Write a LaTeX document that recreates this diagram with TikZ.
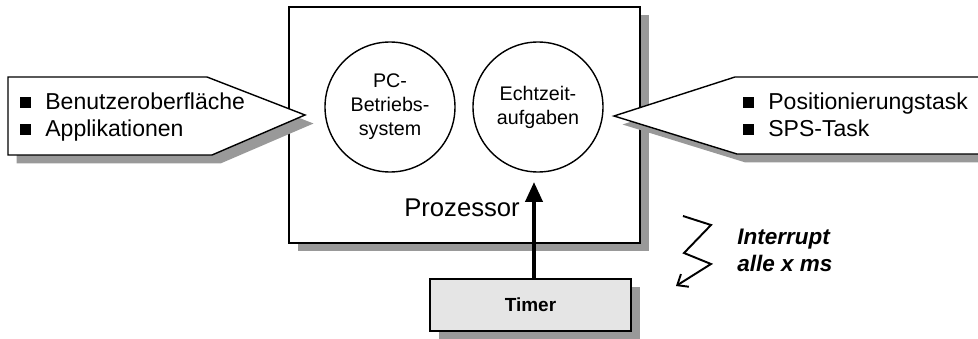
\documentclass[tikz,border=0pt]{standalone}
\usepackage{fontspec}
\setsansfont{Liberation Sans}
\usetikzlibrary{arrows.meta,shadows}
\definecolor{shadowgray}{gray}{0.6}
\definecolor{timergray}{gray}{0.9}
\tikzset{shadowed/.style={draw,line width=0.8pt,fill=white,drop shadow={shadow xshift=0.17cm,shadow yshift=-0.17cm,opacity=1,fill=shadowgray}}}
\tikzset{task/.style={circle,draw,line width=0.8pt,minimum size=2.6cm,inner sep=0pt,align=center,font=\sffamily\fontsize{11.2}{13.7}\selectfont}}
\tikzset{item/.style={anchor=base west,inner sep=0pt,font=\sffamily\fontsize{13.1}{15.4}\selectfont}}
\newcommand{\bsq}{\rule[0.03cm]{0.22cm}{0.22cm}\hspace{0.28cm}}

\begin{document}
\begin{tikzpicture}[font=\sffamily]
      \useasboundingbox (0,0) rectangle (19.56,6.78);
      % processor with its two task groups
      \node[shadowed,minimum width=7.02cm,minimum height=4.72cm] (proc) at (9.29,4.28) {};
      \node[task] (pc) at (7.80,4.64) {PC-\\Betriebs-\\system};
      \node[task] (echt) at (10.76,4.64) {Echtzeit-\\aufgaben};
      \node[font=\sffamily\fontsize{14.6}{17}\selectfont] (proclabel) at (9.24,2.62) {Prozessor};
      % callouts
      \draw[shadowed] (0.16,5.24) -- (4.14,5.24) -- (6.10,4.48) -- (4.24,3.68) -- (0.16,3.68) -- cycle;
      \node[item] (ui) at (0.40,4.58) {\bsq Benutzeroberfläche};
      \node[item] (app) at (0.40,4.04) {\bsq Applikationen};
      \draw[shadowed] (12.28,4.46) -- (14.70,5.24) -- (20.2,5.24) -- (20.2,3.70) -- (14.74,3.70) -- cycle;
      \node[item] (pos) at (14.86,4.58) {\bsq Positionierungstask};
      \node[item] (sps) at (14.86,4.04) {\bsq SPS-Task};
      % timer and interrupt
      \node[shadowed,fill=timergray,minimum width=4.02cm,minimum height=1.04cm,font=\sffamily\bfseries\fontsize{10.8}{13}\selectfont] (timer) at (10.61,0.68) {Timer};
      \coordinate (irq) at (10.68,3.14);
      \draw[line width=2.3pt,-{Triangle[length=0.4cm,width=0.34cm]}] (timer.north -| irq) -- (irq);
      \draw[line width=1.1pt,-{Straight Barb[length=0.18cm,width=0.3cm]}] (13.66,2.46) -- (14.22,2.28) -- (13.68,1.72) -- (14.22,1.50) -- (13.52,1.06);
      \node[anchor=west,align=left,inner sep=0pt,font=\sffamily\bfseries\itshape\fontsize{12.8}{15.4}\selectfont] (irqtext) at (14.74,1.77) {Interrupt\\alle x ms};
    \end{tikzpicture}
\end{document}
